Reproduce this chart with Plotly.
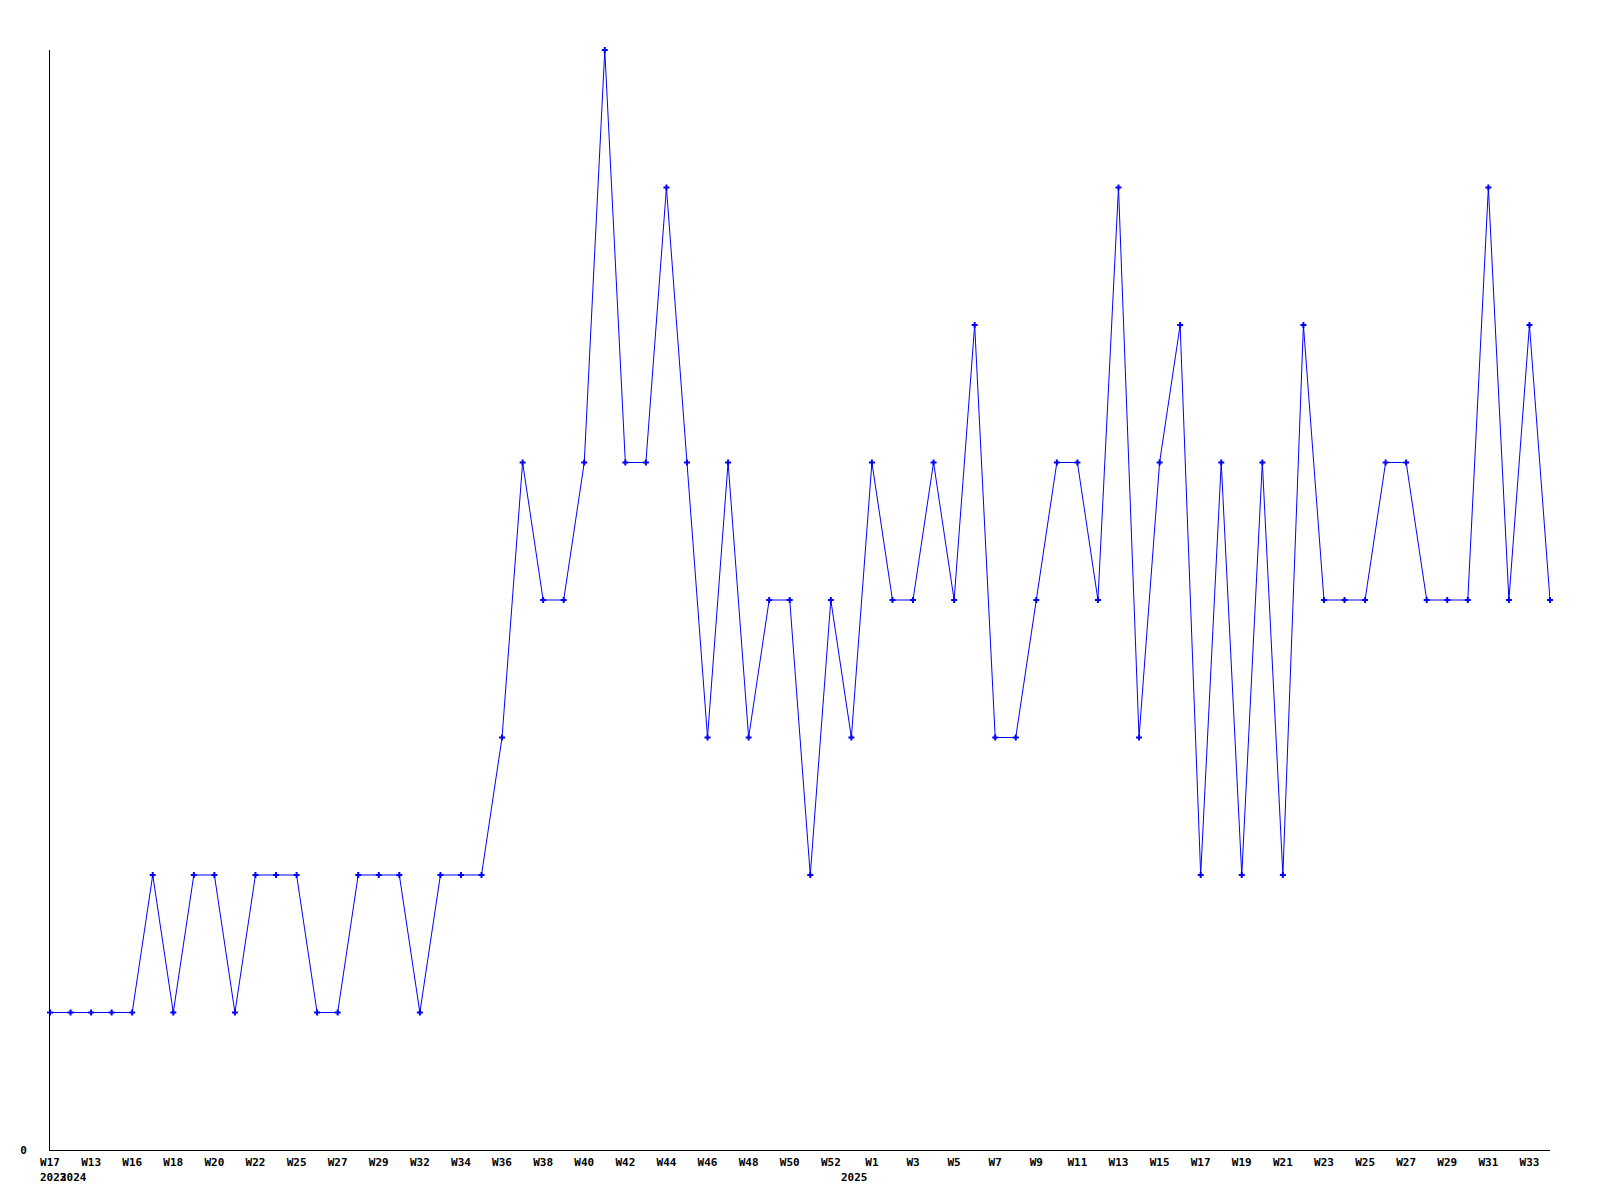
import plotly.graph_objects as go

# Weekly values (74 consecutive observations)
values = [1, 1, 1, 1, 1, 2, 1, 2, 2, 1,
          2, 2, 2, 1, 1, 2, 2, 2, 1, 2,
          2, 2, 3, 5, 4, 4, 5, 8, 5, 5,
          7, 5, 3, 5, 3, 4, 4, 2, 4, 3,
          5, 4, 4, 5, 4, 6, 3, 3, 4, 5,
          5, 4, 7, 3, 5, 6, 2, 5, 2, 5,
          2, 6, 4, 4, 4, 5, 5, 4, 4, 4,
          7, 4, 6, 4]

# Labels shown under every second observation
tick_labels = ["W17", "W13", "W16", "W18", "W20", "W22", "W25", "W27", "W29", "W32",
               "W34", "W36", "W38", "W40", "W42", "W44", "W46", "W48", "W50", "W52",
               "W1", "W3", "W5", "W7", "W9", "W11", "W13", "W15", "W17", "W19",
               "W21", "W23", "W25", "W27", "W29", "W31", "W33"]

# Year markers: (label, index of the observation where the year starts)
year_labels = ["2023", "2024", "2025"]
year_positions = [0, 1, 39]

x_idx = list(range(len(values)))
tick_pos = list(range(0, len(values), 2))[:len(tick_labels)]

font = dict(family="DejaVu Sans Mono", size=11, color="black")

fig = go.Figure()
fig.add_trace(go.Scatter(
    x=x_idx, y=values, mode="lines+markers",
    line=dict(color="#0000ff", width=1),
    marker=dict(symbol="cross", size=5, color="#0000ff"),
    showlegend=False, cliponaxis=False,
))

for lab, pos in zip(year_labels, year_positions):
    fig.add_annotation(x=pos, y=0, xref="x", yref="paper", text="<b>" + lab + "</b>",
                       showarrow=False, yanchor="top", xanchor="center",
                       xshift=3, yshift=-19, font=font)

fig.update_layout(
    width=1600, height=1200,
    margin=dict(l=42, r=58, t=42, b=58),
    paper_bgcolor="white", plot_bgcolor="white",
    font=font,
)
fig.update_xaxes(
    range=[0, len(values) - 1], showgrid=False, zeroline=False,
    showline=True, linecolor="black", linewidth=1,
    tickmode="array", tickvals=tick_pos,
    ticktext=["<b>" + t + "</b>" for t in tick_labels],
    ticks="", tickfont=font, ticklabelstandoff=2,
)
fig.update_yaxes(
    range=[0, 8], showgrid=False, zeroline=False,
    showline=True, linecolor="black", linewidth=1,
    tickmode="array", tickvals=[0], ticktext=["<b>0</b>"],
    ticks="", tickfont=font, ticklabelstandoff=20,
)

fig.write_html("out.html")
